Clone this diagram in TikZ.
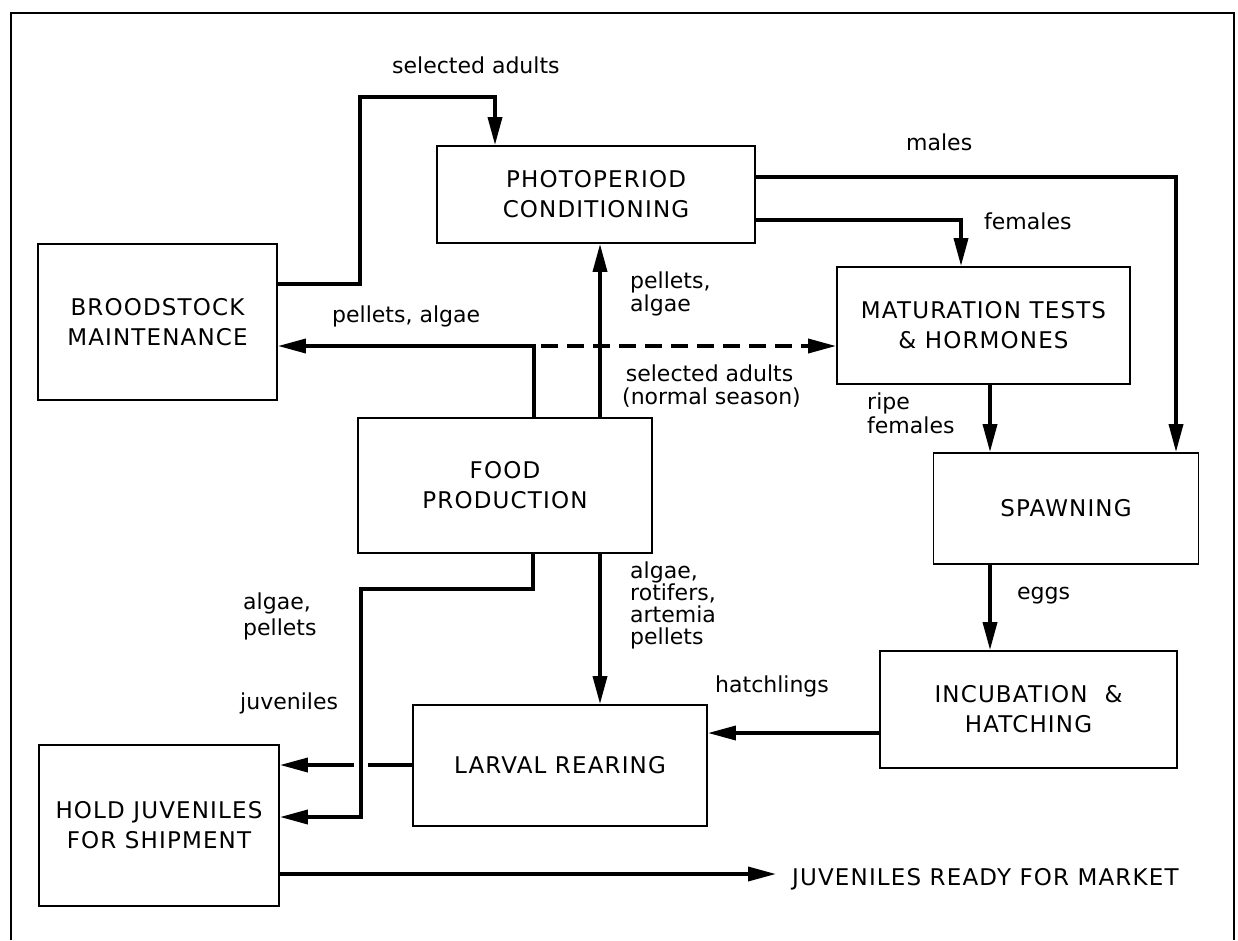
\documentclass[tikz,border=0pt]{standalone}
\usepackage{fontspec}
\setmainfont{DejaVu Sans}
\usetikzlibrary{arrows.meta}
\newcommand{\boxfont}{\fontsize{23}{30}\selectfont\addfontfeatures{LetterSpace=5}}
\newcommand{\labfont}{\fontsize{22}{23}\selectfont}
\begin{document}
\begin{tikzpicture}[x=1pt,y=-1pt,
  box/.style={draw, line width=1.8pt, inner sep=0pt, align=center, font=\boxfont},
  lab/.style={inner sep=0pt, align=left, font=\labfont},
  conn/.style={line width=3.6pt},
  arr/.style={conn, -{Triangle[length=28pt,width=14pt]}},
]
\useasboundingbox (0,0) rectangle (1238,940);
\draw[line width=2.6pt] (11,940) -- (11,13) -- (1234,13) -- (1234,940);

% boxes
\node[box, minimum width=239pt, minimum height=156pt] (brood)  at (157.5,322)  {BROODSTOCK\\MAINTENANCE};
\node[box, minimum width=318pt, minimum height=97pt]  (photo)  at (596,194.5)  {PHOTOPERIOD\\CONDITIONING};
\node[box, minimum width=293pt, minimum height=117pt] (mat)    at (983.5,325.5){MATURATION TESTS\\\& HORMONES};
\node[box, minimum width=294pt, minimum height=135pt] (food)   at (505,485.5)  {FOOD\\PRODUCTION};
\node[box, minimum width=265pt, minimum height=111pt] (spawn)  at (1066,508.5) {SPAWNING};
\node[box, minimum width=297pt, minimum height=117pt] (incub)  at (1028.5,709.5) {INCUBATION \ \&\\HATCHING};
\node[box, minimum width=294pt, minimum height=121pt] (larval) at (560,765.5)  {LARVAL REARING};
\node[box, minimum width=240pt, minimum height=161pt] (hold)   at (159,825.5)  {HOLD JUVENILES\\FOR SHIPMENT};
\node[lab, font=\boxfont, anchor=base west] (market) at (792,885) {JUVENILES READY FOR MARKET};

% labels
\node[lab, anchor=base west] (lsel) at (392,73) {selected adults};
\node[lab, anchor=base west] (lmales) at (906,150) {males};
\node[lab, anchor=base west] (lfem) at (984,229) {females};
\node[lab, anchor=base west] (lpa) at (332,322) {pellets, algae};
\node[lab, anchor=north west] (lpa2) at (630,271.5) {pellets,\\algae};
\node[lab, anchor=north west] (lsa) at (622,364.5) {\,selected adults\\(normal season)};
\node[lab, anchor=north west, font=\fontsize{22}{24}\selectfont] (lripe) at (867,392.5) {ripe\\females};
\node[lab, anchor=north west, font=\fontsize{22}{22}\selectfont] (lalg) at (630,561.5) {algae,\\rotifers,\\artemia\\pellets};
\node[lab, anchor=north west, font=\fontsize{22}{26}\selectfont] (lalg2) at (243,592.5) {algae,\\pellets};
\node[lab, anchor=base west] (ljuv) at (240,709) {juveniles};
\node[lab, anchor=base west] (leggs) at (1017,599) {eggs};
\node[lab, anchor=base west] (lhatch) at (715,692) {hatchlings};

% connectors
\coordinate (sa1) at (360,284);
\coordinate (sa2) at (360,97);
\coordinate (sa3) at (495,97);
\draw[arr] (brood.east |- sa1) -- (sa1) -- (sa2) -- (sa3) -- (sa3 |- photo.north);

\coordinate (m1) at (1176,177);
\draw[arr] (photo.east |- m1) -- (m1) -- (m1 |- spawn.north);

\coordinate (f1) at (961,220);
\draw[arr] (photo.east |- f1) -- (f1) -- (f1 |- mat.north);

\coordinate (pa) at (534,346);
\draw[arr] (pa |- food.north) -- (pa) -- (brood.east |- pa);
\coordinate (pad) at (541,346);
\draw[arr, dash pattern=on 17pt off 9pt] (pad) -- (mat.west |- pad);

\coordinate (fp) at (600,0);
\draw[arr] (fp |- food.north) -- (fp |- photo.south);
\draw[arr] (fp |- food.south) -- (fp |- larval.north);

\coordinate (h1) at (533,589);
\coordinate (h2) at (361,589);
\coordinate (h3) at (361,817);
\draw[arr] (h1 |- food.south) -- (h1) -- (h2) -- (h3) -- (hold.east |- h3);

\coordinate (j1) at (368,765);
\coordinate (j2) at (354,765);
\draw[conn] (larval.west |- j1) -- (j1);
\draw[arr] (j2) -- (hold.east |- j2);

\coordinate (rf) at (990,0);
\draw[arr] (rf |- mat.south) -- (rf |- spawn.north);
\draw[arr] (rf |- spawn.south) -- (rf |- incub.north);

\coordinate (ht) at (0,733);
\draw[arr] (incub.west |- ht) -- (larval.east |- ht);

\coordinate (mk) at (0,874);
\draw[arr, shorten >=16pt] (hold.east |- mk) -- (market.west |- mk);
\end{tikzpicture}
\end{document}
